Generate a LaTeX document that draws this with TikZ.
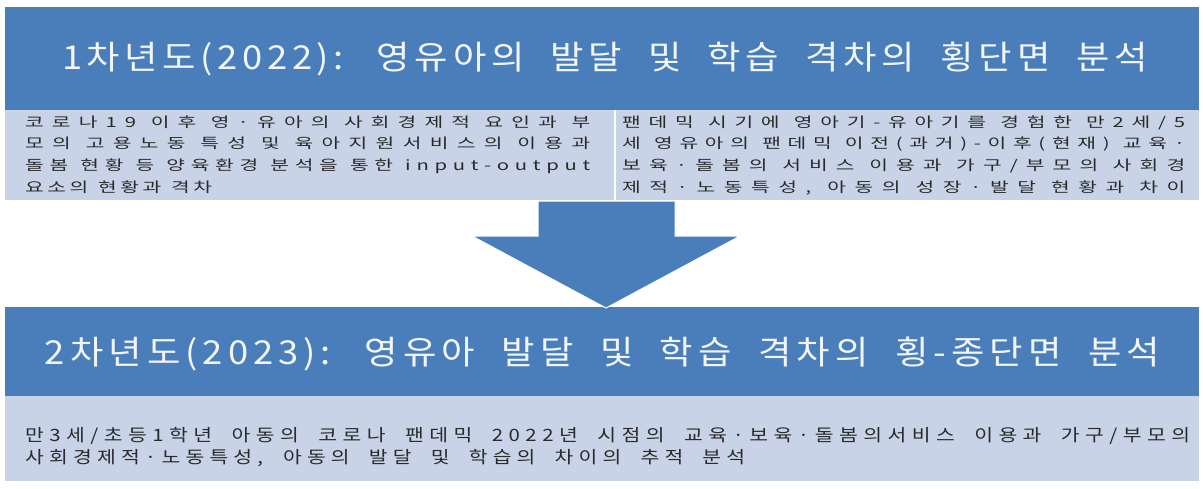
\documentclass[tikz,border=0pt]{standalone}
\usepackage{fontspec}
\newfontfamily\krHead[FakeStretch=1.1]{Noto Sans CJK KR}
\newfontfamily\krTop[FakeStretch=1.45]{Noto Sans CJK KR}
\newfontfamily\krBot[FakeStretch=1.2]{Noto Sans CJK KR}
\definecolor{hdrblue}{HTML}{4A7EBB}
\definecolor{lightbox}{HTML}{C9D3E7}
\definecolor{bodytext}{HTML}{2A2A2A}
\definecolor{hdrtext}{HTML}{F2F5FA}
% gap between letters: \lgapskip, stretchable, so that \jl spreads a line evenly
\newskip\lgapskip
\chardef\krcls=7
\newcount\kc
\newcommand\setrange[3]{\kc=#1\relax
  \loop \XeTeXcharclass\kc=#3\relax \ifnum\kc<#2\relax \advance\kc by 1 \repeat}
\setrange{"AC00}{"D7A3}{\krcls}
\setrange{`0}{`9}{\krcls}
\setrange{`a}{`z}{\krcls}
\XeTeXcharclass`(=\krcls
\XeTeXcharclass`)=\krcls
\XeTeXcharclass`/=\krcls
\XeTeXcharclass`-=\krcls
\XeTeXcharclass`,=\krcls
\XeTeXcharclass`:=\krcls
\XeTeXcharclass"00B7=\krcls
\XeTeXinterchartoks\krcls\krcls={\hskip\lgapskip}
\newcommand{\jl}[2]{\makebox[#1][s]{#2}}
\begin{document}
\begin{tikzpicture}[x=1pt,y=-1pt,
  hdrbox/.style={fill=hdrblue, draw=none, anchor=north west, inner sep=0pt},
  litebox/.style={fill=lightbox, draw=none, anchor=north west, inner sep=0pt},
  hdrtxt/.style={text=hdrtext, font={\krHead\fontsize{33}{40}\selectfont\lgapskip=0.5pt plus 1pt minus 0.5pt\relax\spaceskip=22pt plus 1pt minus 1pt\relax\XeTeXinterchartokenstate=1\relax}, inner sep=0pt, text height=29pt, text depth=4pt},
  bodyA/.style={text=bodytext, font={\krTop\fontsize{14}{18}\selectfont\lgapskip=3.5pt plus 1pt minus 0.5pt\relax\spaceskip=10pt plus 1pt minus 1pt\relax\XeTeXinterchartokenstate=1\relax}, inner sep=0pt, anchor=west, text height=12.3pt, text depth=1.7pt},
  bodyB/.style={text=bodytext, font={\krBot\fontsize{17}{22}\selectfont\lgapskip=2pt plus 1pt minus 0.5pt\relax\spaceskip=16pt plus 1pt minus 1pt\relax\XeTeXinterchartokenstate=1\relax}, inner sep=0pt, anchor=west, text height=15pt, text depth=2pt},
  blockarrow/.style={fill=hdrblue, draw=white, line width=1pt, line join=miter}
]
\useasboundingbox (0,0) rectangle (1203,488);
\fill[white] (0,0) rectangle (1203,488);

% year 1
\node[hdrbox, minimum width=1194pt, minimum height=103pt] (h1) at (5,7) {};
\node[litebox, minimum width=609pt, minimum height=90pt] (b1l) at (5,110) {};
\node[litebox, minimum width=583pt, minimum height=90pt] (b1r) at (616,110) {};

% year 2
\node[hdrbox, minimum width=1194pt, minimum height=89pt] (h2) at (5,307) {};
\node[litebox, minimum width=1194pt, minimum height=85pt] (b2) at (5,396) {};

% block arrow
\coordinate (tip) at (606,308);
\path[blockarrow] (538,201) -- (675,201) -- (675,236) -- (740,236) -- (tip) -- (472,236) -- (538,236) -- cycle;

% headers
\node[hdrtxt] (t1) at (605,57) {\jl{1086pt}{1차년도(2022): 영유아의 발달 및 학습 격차의 횡단면 분석}};
\node[hdrtxt] (t2) at (602.5,352) {\jl{1115pt}{2차년도(2023): 영유아 발달 및 학습 격차의 횡-종단면 분석}};

% left text
\node[bodyA] (l1) at (25,122) {\jl{565pt}{코로나19 이후 영·유아의 사회경제적 요인과 부}};
\node[bodyA] (l2) at (25,143.5) {\jl{565pt}{모의 고용노동 특성 및 육아지원서비스의 이용과}};
\node[bodyA] (l3) at (25,165) {\jl{565pt}{돌봄 현황 등 양육환경 분석을 통한 input-output}};
\node[bodyA] (l4) at (25,187) {요소의 현황과 격차};

% right text
\node[bodyA] (r1) at (622,122) {\jl{563pt}{팬데믹 시기에 영아기-유아기를 경험한 만2세/5}};
\node[bodyA] (r2) at (622,143.5) {\jl{563pt}{세 영유아의 팬데믹 이전(과거)-이후(현재) 교육·}};
\node[bodyA] (r3) at (622,165) {\jl{563pt}{보육·돌봄의 서비스 이용과 가구/부모의 사회경}};
\node[bodyA] (r4) at (622,187) {\jl{563pt}{제적·노동특성, 아동의 성장·발달 현황과 차이}};

% bottom text
\node[bodyB] (m1) at (25,435) {\jl{1165pt}{만3세/초등1학년 아동의 코로나 팬데믹 2022년 시점의 교육·보육·돌봄의서비스 이용과 가구/부모의}};
\node[bodyB] (m2) at (25,457) {\jl{720pt}{사회경제적·노동특성, 아동의 발달 및 학습의 차이의 추적 분석}};
\end{tikzpicture}
\end{document}
